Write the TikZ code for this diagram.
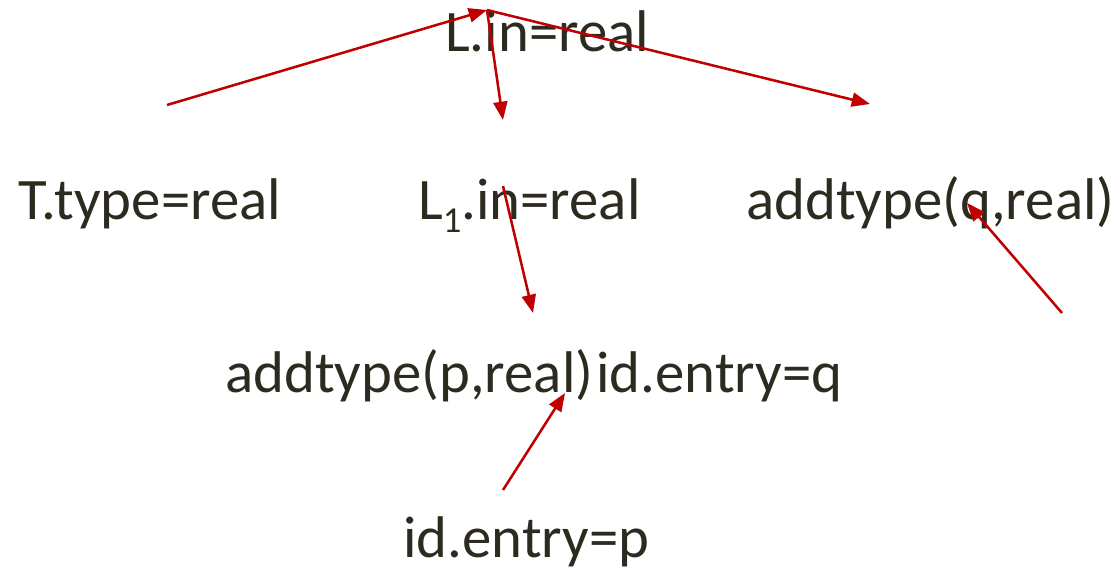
\documentclass[tikz,border=0pt]{standalone}
\usepackage{fontspec}
\setmainfont{Carlito}
\usepackage{xcolor}
\usetikzlibrary{arrows.meta}
\definecolor{txtgray}{HTML}{2D2A20}
\definecolor{depred}{HTML}{C00000}
\newcommand{\lowone}{\raisebox{-0.22em}{\fontsize{26}{28}\selectfont 1}}

\begin{document}
\begin{tikzpicture}[
    x=0.025cm, y=-0.025cm,
    attr/.style={anchor=base west, inner sep=0pt, text=txtgray, font=\fontsize{41.8}{50}\selectfont},
    dep/.style={-{Triangle[length=13pt, width=10pt]}, depred, line width=1.8pt}
]
\useasboundingbox (0,0) rectangle (1116,570);

\node[attr] (lin) at (445,52) {L.in=real};
\node[attr] (ttype) at (18,220) {T.type=real};
\node[attr] (l1in) at (418,220) {L\lowone.in=real};
\node[attr] (addq) at (746,220) {addtype(q,real)};
\node[attr] (addp) at (225,392) {addtype(p,real)};
\node[attr] (idq) at (596,392) {id.entry=q};
\node[attr] (idp) at (403,557) {id.entry=p};

% end points of the dependency arrows
\coordinate (lintop) at (487,10);
\coordinate (ttypeout) at (167,105);
\coordinate (l1inin) at (503,120);
\coordinate (addqin) at (870,104);
\coordinate (l1inout) at (503,186);
\coordinate (addpin) at (533,313);
\coordinate (idqout) at (1062,313);
\coordinate (qarg) at (967,203);
\coordinate (idpout) at (503,490);
\coordinate (parg) at (565,393);

\draw[dep] (ttypeout) -- (lintop);
\draw[dep] (lintop) -- (l1inin);
\draw[dep] (lintop) -- (addqin);
\draw[dep] (l1inout) -- (addpin);
\draw[dep] (idqout) -- (qarg);
\draw[dep] (idpout) -- (parg);
\end{tikzpicture}
\end{document}
